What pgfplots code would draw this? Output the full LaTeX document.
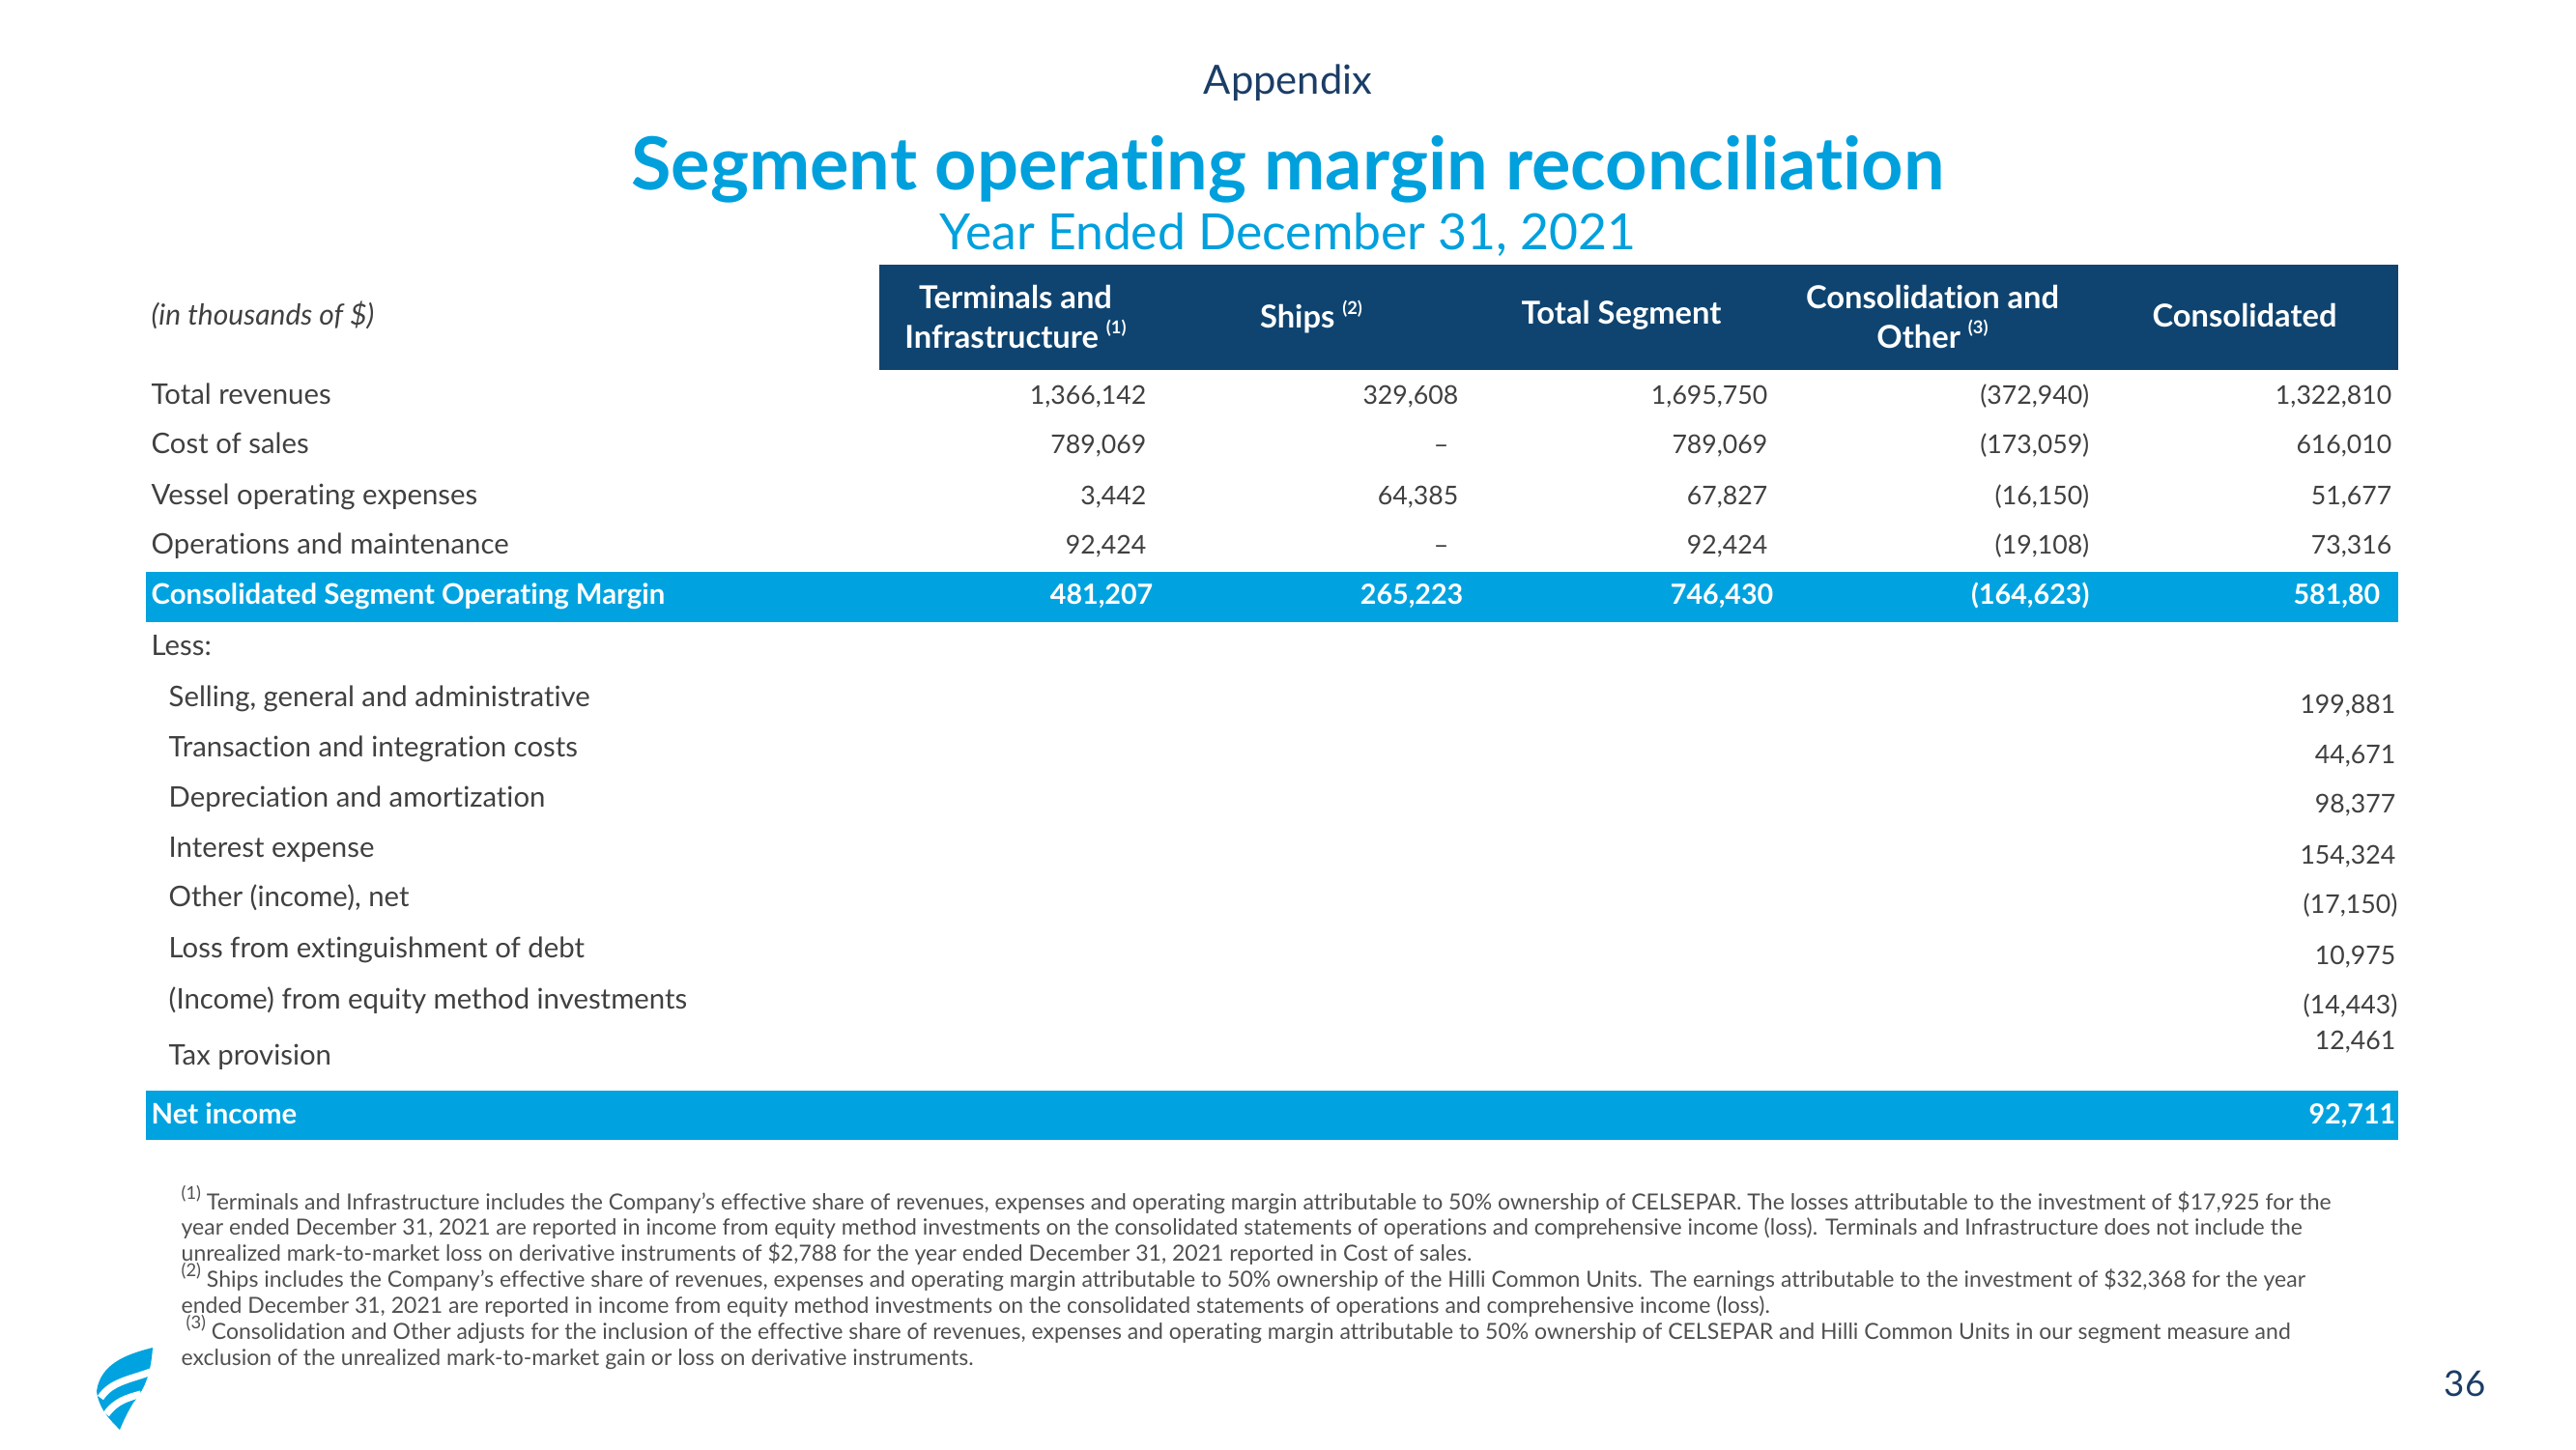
\documentclass[border=0pt]{standalone}
\usepackage{fontspec}
\setmainfont{Lato}[Ligatures={NoCommon}]
\usepackage{pgfplots}
\pgfplotsset{compat=1.18}
\definecolor{navy}{HTML}{0F4470}
\definecolor{cyanb}{HTML}{00A3E0}
\definecolor{titlec}{HTML}{00A0DD}
\definecolor{txt}{HTML}{404040}
\definecolor{foot}{HTML}{505050}
\definecolor{appx}{HTML}{1B3D66}
\newcommand{\bodyf}{\fontsize{8}{9.6}\selectfont}
\newcommand{\labf}{\fontsize{8.8}{10.5}\selectfont}
\newcommand{\headf}{\fontsize{9.8}{12.2}\selectfont\bfseries}
\newcommand{\footf}{\fontsize{6.9}{8}\selectfont}
\newcommand{\sfn}[1]{\raisebox{0.45em}{\fontsize{5.5}{5.5}\selectfont(#1)}}
\pgfplotsset{
  valcol/.style={draw=none, mark=none, nodes near coords, point meta=explicit symbolic,
    every node near coord/.append style={anchor=base east, inner sep=0pt, font=\bodyf, text=txt}},
  valbold/.style={draw=none, mark=none, nodes near coords, point meta=explicit symbolic,
    every node near coord/.append style={anchor=base east, inner sep=0pt, font=\fontsize{8.6}{10}\selectfont\bfseries, text=white}},
}
\begin{document}
\begin{tikzpicture}
\begin{axis}[width=799.8pt, height=450pt, scale only axis,
  xmin=0, xmax=2666, ymin=0, ymax=1500, y dir=reverse,
  axis lines=none, ticks=none, clip=false]
\path (axis cs:0,0) rectangle (axis cs:2666,1500);
% titles
\node[anchor=center, font=\fontsize{12.5}{14}\selectfont, text=appx] at (axis cs:1333,86) {Appendix};
\node[anchor=center, font=\fontsize{22.7}{26}\selectfont\bfseries, text=titlec] at (axis cs:1333,175) {Segment operating margin reconciliation};
\node[anchor=center, font=\fontsize{15.5}{18}\selectfont, text=titlec] at (axis cs:1333,243) {Year Ended December 31, 2021};
% header bar
\fill[navy] (axis cs:910,274) rectangle (axis cs:2482,383);
\node[anchor=base west, inner sep=0pt, font=\fontsize{9}{11}\selectfont\itshape, text=txt] at (axis cs:156,336) {(in thousands of \$)};
\node[align=center, font=\headf, text=white] at (axis cs:1051,328) {Terminals and\\Infrastructure \sfn{1}};
\node[align=center, font=\headf, text=white] at (axis cs:1357,328) {Ships \sfn{2}};
\node[align=center, font=\headf, text=white] at (axis cs:1678,326) {Total Segment};
\node[align=center, font=\headf, text=white] at (axis cs:2000,328) {Consolidation and\\Other \sfn{3}};
\node[align=center, font=\headf, text=white] at (axis cs:2323,326) {Consolidated};
% highlight bars
\fill[cyanb] (axis cs:151,592) rectangle (axis cs:2482,644);
\fill[cyanb] (axis cs:151,1129) rectangle (axis cs:2482,1180);
% row labels
\begin{scope}[every node/.style={anchor=base west, inner sep=0pt, font=\labf, text=txt}]
\node at (axis cs:156,418) {Total revenues};
\node at (axis cs:156,469) {Cost of sales};
\node at (axis cs:156,522) {Vessel operating expenses};
\node at (axis cs:156,573) {Operations and maintenance};
\node[text=white, font=\labf\bfseries] at (axis cs:156,625) {Consolidated Segment Operating Margin};
\node at (axis cs:156,678) {Less:};
\node at (axis cs:174,731) {Selling, general and administrative};
\node at (axis cs:174,783) {Transaction and integration costs};
\node at (axis cs:174,835) {Depreciation and amortization};
\node at (axis cs:174,887) {Interest expense};
\node at (axis cs:174,938) {Other (income), net};
\node at (axis cs:174,991) {Loss from extinguishment of debt};
\node at (axis cs:174,1044) {(Income) from equity method investments};
\node at (axis cs:174,1102) {Tax provision};
\node[text=white, font=\labf\bfseries] at (axis cs:156,1163) {Net income};
\end{scope}
% values: Terminals and Infrastructure
\addplot[valcol] table[meta=label] {
x y label
1187 418 1,366,142
1187 469 789,069
1187 522 3,442
1187 573 92,424
};
\addplot[valbold] table[meta=label] {
x y label
1194 625 481,207
};
% Ships
\addplot[valcol] table[meta=label] {
x y label
1510 418 329,608
1500 469 –
1510 522 64,385
1500 573 –
};
\addplot[valbold] table[meta=label] {
x y label
1515 625 265,223
};
% Total Segment
\addplot[valcol] table[meta=label] {
x y label
1830 418 1,695,750
1830 469 789,069
1830 522 67,827
1830 573 92,424
};
\addplot[valbold] table[meta=label] {
x y label
1836 625 746,430
};
% Consolidation and Other
\addplot[valcol] table[meta=label] {
x y label
2163 418 (372,940)
2163 469 (173,059)
2163 522 (16,150)
2163 573 (19,108)
};
\addplot[valbold] table[meta=label] {
x y label
2163 625 (164,623)
};
% Consolidated
\addplot[valcol] table[meta=label] {
x y label
2476 418 1,322,810
2476 469 616,010
2476 522 51,677
2476 573 73,316
2480 738 199,881
2480 790 44,671
2480 841 98,377
2480 894 154,324
2482 945 (17,150)
2480 998 10,975
2482 1049 (14,443)
2480 1086 12,461
};
\addplot[valbold] table[meta=label] {
x y label
2464 625 581,80
2480 1163 92,711
};
% footnotes
\begin{scope}[every node/.style={anchor=base west, inner sep=0pt, font=\footf, text=foot}]
\node at (axis cs:187,1252) {\sfn{1} Terminals and Infrastructure includes the Company's effective share of revenues, expenses and operating margin attributable to 50\% ownership of CELSEPAR. The losses attributable to the investment of \$17,925 for the};
\node at (axis cs:187,1278) {year ended December 31, 2021 are reported in income from equity method investments on the consolidated statements of operations and comprehensive income (loss). Terminals and Infrastructure does not include the};
\node at (axis cs:187,1305) {unrealized mark-to-market loss on derivative instruments of \$2,788 for the year ended December 31, 2021 reported in Cost of sales.};
\node at (axis cs:187,1332) {\sfn{2} Ships includes the Company's effective share of revenues, expenses and operating margin attributable to 50\% ownership of the Hilli Common Units. The earnings attributable to the investment of \$32,368 for the year};
\node at (axis cs:187,1359) {ended December 31, 2021 are reported in income from equity method investments on the consolidated statements of operations and comprehensive income (loss).};
\node at (axis cs:192,1386) {\sfn{3} Consolidation and Other adjusts for the inclusion of the effective share of revenues, expenses and operating margin attributable to 50\% ownership of CELSEPAR and Hilli Common Units in our segment measure and};
\node at (axis cs:187,1413) {exclusion of the unrealized mark-to-market gain or loss on derivative instruments.};
\end{scope}
% page number
\node[anchor=center, font=\fontsize{11}{13}\selectfont, text=appx] at (axis cs:2551,1432) {36};
% logo
\fill[cyanb] (axis cs:100,1440) .. controls (axis cs:104,1412) and (axis cs:130,1402) .. (axis cs:158,1395)
  .. controls (axis cs:156,1425) and (axis cs:148,1440) .. (axis cs:138,1452)
  .. controls (axis cs:132,1462) and (axis cs:128,1470) .. (axis cs:124,1480)
  .. controls (axis cs:114,1470) and (axis cs:102,1458) .. (axis cs:100,1440) -- cycle;
\draw[white, line width=2.2pt] (axis cs:104,1447) .. controls (axis cs:115,1430) and (axis cs:135,1428) .. (axis cs:156,1420);
\draw[white, line width=2.2pt] (axis cs:110,1464) .. controls (axis cs:120,1450) and (axis cs:132,1447) .. (axis cs:146,1443);
\end{axis}
\end{tikzpicture}
\end{document}
